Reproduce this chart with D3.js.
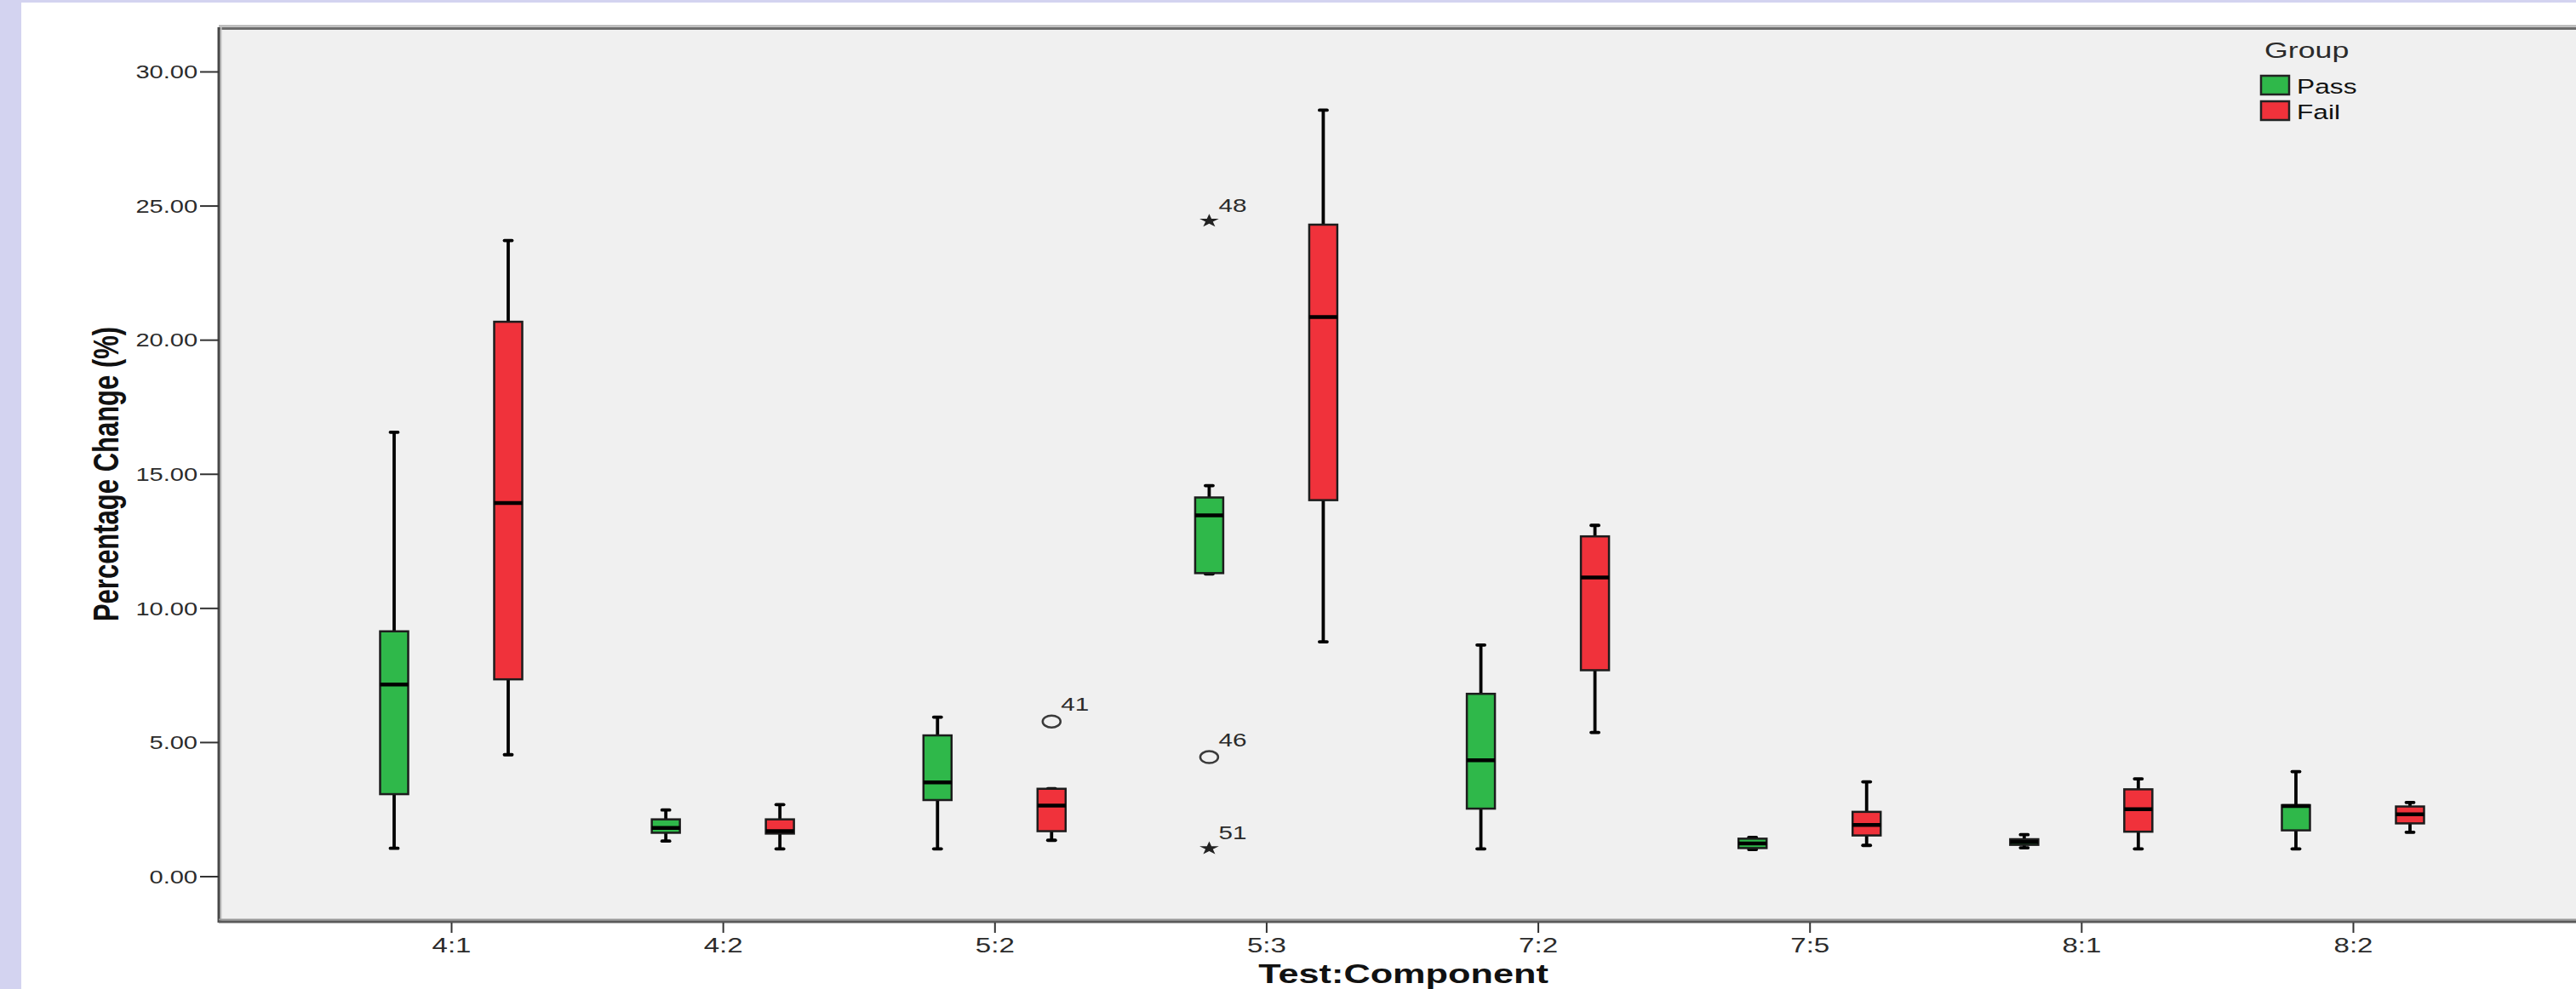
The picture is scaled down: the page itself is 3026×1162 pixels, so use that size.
<!DOCTYPE html>
<html>
<head>
<meta charset="utf-8">
<script src="https://cdn.jsdelivr.net/npm/d3@7"></script>
<style>
  html, body { margin: 0; padding: 0; background: #ffffff; overflow: hidden; }
  svg { display: block; }
  text { font-family: "Liberation Sans", Arial, sans-serif; }
</style>
</head>
<body>
<svg id="chart" width="3026" height="1162"></svg>
<script>
// ---- data: percentage change per Test:Component, split by group ----
const categories = ['4:1', '4:2', '5:2', '5:3', '7:2', '7:5', '8:1', '8:2'];
const groups = ['Pass', 'Fail'];

const passLow  = [1.04, 1.31, 1.02, 11.27, 1.02, 1.00, 1.06, 1.02];
const passQ1   = [3.06, 1.62, 2.84, 11.30, 2.52, 1.05, 1.17, 1.71];
const passMed  = [7.15, 1.80, 3.50, 13.45, 4.32, 1.22, 1.28, 2.62];
const passQ3   = [9.13, 2.12, 5.25, 14.12, 6.80, 1.40, 1.38, 2.65];
const passHigh = [16.55, 2.47, 5.93, 14.56, 8.62, 1.45, 1.55, 3.90];

const failLow  = [4.53, 1.02, 1.34, 8.74, 5.36, 1.15, 1.02, 1.64];
const failQ1   = [7.34, 1.59, 1.68, 14.02, 7.68, 1.52, 1.66, 1.97];
const failMed  = [13.91, 1.68, 2.63, 20.85, 11.14, 1.91, 2.50, 2.31];
const failQ3   = [20.67, 2.12, 3.26, 24.29, 12.67, 2.40, 3.24, 2.60];
const failHigh = [23.70, 2.67, 3.26, 28.56, 13.08, 3.52, 3.63, 2.75];

// outliers (circle) and extremes (star), labelled with case number
const outlierCats   = ['5:2', '5:3', '5:3', '5:3'];
const outlierGroups = ['Fail', 'Pass', 'Pass', 'Pass'];
const outlierValues = [5.77, 24.43, 4.44, 1.04];
const outlierIds    = ['41', '48', '46', '51'];
const outlierKinds  = ['circle', 'star', 'circle', 'star'];

const yTicks = [0, 5, 10, 15, 20, 25, 30];

// ---- layout ----
const W = 3026, H = 1162;
const plot = { left: 257, top: 32, right: 3040, bottom: 1082 };
const SX = 1.35;            // horizontal stretch applied to all text
const FONT_FILL = '#2b2b2b';

const svg = d3.select('#chart');

// page background bands
svg.append('rect').attr('x', 0).attr('y', 0).attr('width', W).attr('height', H).attr('fill', '#ffffff');
svg.append('rect').attr('x', 0).attr('y', 0).attr('width', 25).attr('height', H).attr('fill', '#d3d3f0');
svg.append('rect').attr('x', 0).attr('y', 0).attr('width', W).attr('height', 3).attr('fill', '#d3d3f0');

// plot area
svg.append('rect')
  .attr('x', plot.left).attr('y', plot.top)
  .attr('width', plot.right - plot.left).attr('height', plot.bottom - plot.top)
  .attr('fill', '#f0f0f0');

// scales
const y = d3.scaleLinear().domain([0, 30]).range([1029.5, 84]);
const x = d3.scalePoint().domain(categories).range([530, 2764]);
const xg = d3.scalePoint().domain(groups).range([-67, 67]);
const color = d3.scaleOrdinal().domain(groups).range(['#2fb84a', '#f0323b']);

// frame lines
svg.append('line').attr('x1', plot.left).attr('x2', W).attr('y1', 30.5).attr('y2', 30.5)
  .attr('stroke', '#a8a8a8').attr('stroke-width', 2);
svg.append('line').attr('x1', plot.left).attr('x2', W).attr('y1', 33.5).attr('y2', 33.5)
  .attr('stroke', '#6c6c6c').attr('stroke-width', 3);
svg.append('line').attr('x1', 259.5).attr('x2', 259.5).attr('y1', plot.top).attr('y2', plot.bottom)
  .attr('stroke', '#c4c4c4').attr('stroke-width', 2);
svg.append('line').attr('x1', plot.left).attr('x2', plot.left).attr('y1', plot.top).attr('y2', plot.bottom + 2)
  .attr('stroke', '#474747').attr('stroke-width', 3);
svg.append('line').attr('x1', plot.left).attr('x2', W).attr('y1', plot.bottom - 1.5).attr('y2', plot.bottom - 1.5)
  .attr('stroke', '#9a9a9a').attr('stroke-width', 2);
svg.append('line').attr('x1', plot.left).attr('x2', W).attr('y1', plot.bottom + 1).attr('y2', plot.bottom + 1)
  .attr('stroke', '#5a5a5a').attr('stroke-width', 3);

// y axis
const yAxis = svg.append('g')
  .attr('transform', `translate(${plot.left},0)`)
  .call(d3.axisLeft(y).tickValues(yTicks).tickFormat(d3.format('.2f')).tickSize(22).tickPadding(3));
yAxis.select('.domain').remove();
yAxis.selectAll('.tick line').attr('stroke', '#333').attr('stroke-width', 2);
yAxis.selectAll('.tick text')
  .attr('x', -25 / SX)
  .attr('dy', '0.36em')
  .attr('transform', `scale(${SX},1)`)
  .attr('font-size', 21.5)
  .attr('font-family', '"Liberation Sans", Arial, sans-serif')
  .attr('fill', FONT_FILL);

// x axis
const xAxis = svg.append('g')
  .attr('transform', `translate(0,${plot.bottom + 2})`)
  .call(d3.axisBottom(x).tickSize(12).tickPadding(3));
xAxis.select('.domain').remove();
xAxis.selectAll('.tick line').attr('stroke', '#333').attr('stroke-width', 2);
xAxis.selectAll('.tick text')
  .attr('y', 35)
  .attr('dy', 0)
  .attr('x', 0)
  .attr('font-size', 24.5)
  .attr('font-family', '"Liberation Sans", Arial, sans-serif')
  .attr('fill', FONT_FILL)
  .attr('transform', `scale(${SX},1)`);

// axis titles
svg.append('text')
  .attr('transform', `translate(139,557) scale(1.38,1) rotate(-90)`)
  .attr('text-anchor', 'middle')
  .attr('font-size', 31)
  .attr('font-weight', 'bold')
  .attr('fill', '#111')
  .text('Percentage Change (%)');

svg.append('text')
  .attr('transform', `translate(${(plot.left + plot.right) / 2},1155) scale(1.41,1)`)
  .attr('text-anchor', 'middle')
  .attr('font-size', 30.7)
  .attr('font-weight', 'bold')
  .attr('fill', '#111')
  .text('Test:Component');

// ---- boxes ----
const boxes = [];
categories.forEach((c, i) => {
  boxes.push({ cat: c, group: 'Pass', low: passLow[i], q1: passQ1[i], med: passMed[i], q3: passQ3[i], high: passHigh[i] });
  boxes.push({ cat: c, group: 'Fail', low: failLow[i], q1: failQ1[i], med: failMed[i], q3: failQ3[i], high: failHigh[i] });
});

const BOX_W = 33;
const CAP_W = 9;

const bg = svg.append('g').selectAll('g.box').data(boxes).join('g')
  .attr('class', 'box')
  .attr('transform', d => `translate(${x(d.cat) + xg(d.group)},0)`);

// whiskers
bg.append('line').attr('x1', 0).attr('x2', 0)
  .attr('y1', d => y(d.high)).attr('y2', d => y(d.q3))
  .attr('stroke', '#000').attr('stroke-width', 3.8);
bg.append('line').attr('x1', 0).attr('x2', 0)
  .attr('y1', d => y(d.q1)).attr('y2', d => y(d.low))
  .attr('stroke', '#000').attr('stroke-width', 3.8);
// whisker caps
bg.append('line').attr('x1', -CAP_W / 2).attr('x2', CAP_W / 2)
  .attr('y1', d => y(d.high)).attr('y2', d => y(d.high))
  .attr('stroke', '#000').attr('stroke-width', 3.8).attr('stroke-linecap', 'round');
bg.append('line').attr('x1', -CAP_W / 2).attr('x2', CAP_W / 2)
  .attr('y1', d => y(d.low)).attr('y2', d => y(d.low))
  .attr('stroke', '#000').attr('stroke-width', 3.8).attr('stroke-linecap', 'round');
// box
bg.append('rect')
  .attr('x', -BOX_W / 2).attr('width', BOX_W)
  .attr('y', d => y(d.q3)).attr('height', d => Math.max(1, y(d.q1) - y(d.q3)))
  .attr('fill', d => color(d.group))
  .attr('stroke', '#1c1c1c').attr('stroke-width', 2.5);
// median
bg.append('line').attr('x1', -BOX_W / 2).attr('x2', BOX_W / 2)
  .attr('y1', d => y(d.med)).attr('y2', d => y(d.med))
  .attr('stroke', '#000').attr('stroke-width', 4.5);

// ---- outliers ----
const outliers = outlierValues.map((v, i) => ({
  cat: outlierCats[i], group: outlierGroups[i], value: v, id: outlierIds[i], kind: outlierKinds[i]
}));

const og = svg.append('g').selectAll('g.outlier').data(outliers).join('g')
  .attr('class', 'outlier')
  .attr('transform', d => `translate(${x(d.cat) + xg(d.group)},${y(d.value)})`);

og.filter(d => d.kind === 'circle').append('ellipse')
  .attr('rx', 10.5).attr('ry', 7)
  .attr('fill', 'none').attr('stroke', '#3a3a3a').attr('stroke-width', 2.5);

og.filter(d => d.kind === 'star').append('path')
  .attr('d', d3.symbol(d3.symbolStar, 95)())
  .attr('transform', 'scale(1.3,0.9)')
  .attr('fill', '#222');

og.append('text')
  .attr('transform', d => `translate(11,${d.kind === 'star' ? -11 : -13}) scale(${SX},1)`)
  .attr('font-size', 22)
  .attr('fill', FONT_FILL)
  .text(d => d.id);

// ---- legend ----
const legend = svg.append('g');
legend.append('text')
  .attr('transform', `translate(2660,68) scale(${SX},1)`)
  .attr('font-size', 26.5)
  .attr('fill', FONT_FILL)
  .text('Group');

const li = legend.selectAll('g.item').data(groups).join('g')
  .attr('class', 'item')
  .attr('transform', (d, i) => `translate(2656,${89 + i * 30})`);
li.append('rect')
  .attr('width', 33).attr('height', 22)
  .attr('fill', d => color(d))
  .attr('stroke', '#222').attr('stroke-width', 2.5);
li.append('text')
  .attr('transform', `translate(42,21) scale(${SX},1)`)
  .attr('font-size', 23.5)
  .attr('fill', '#111')
  .text(d => d);
</script>
</body>
</html>
